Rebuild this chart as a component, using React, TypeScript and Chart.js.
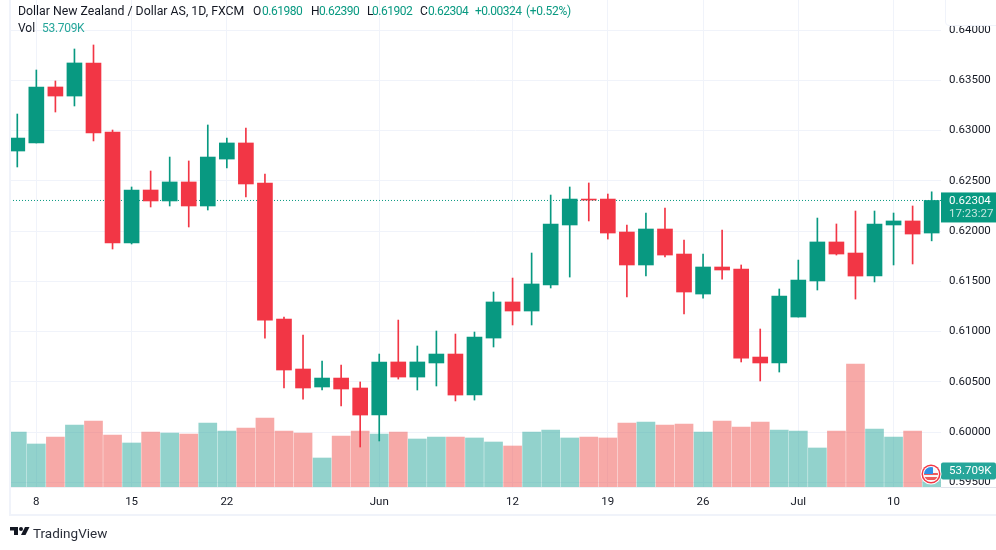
import { useEffect, useRef } from "react";
import { Chart, registerables } from "chart.js";

Chart.register(...registerables);

const opens = [
  0.62796, 0.62876, 0.63433, 0.63343, 0.63672, 0.62985, 0.61881, 0.62408, 0.62299, 0.62488,
  0.62249, 0.62716, 0.62876, 0.62478, 0.61124, 0.60627, 0.60448, 0.60537, 0.60438, 0.60169,
  0.60697, 0.60547, 0.60687, 0.60776, 0.60368, 0.60935, 0.61294, 0.61204, 0.61463, 0.6206,
  0.62318, 0.62318, 0.6199, 0.61662, 0.6202, 0.61771, 0.61373, 0.61642, 0.61622, 0.60746,
  0.60687, 0.61144, 0.61503, 0.61891, 0.61781, 0.61552, 0.6206, 0.621, 0.6198,
];
const highs = [
  0.63164, 0.63602, 0.63493, 0.63811, 0.63851, 0.63005, 0.62438, 0.62597, 0.62736, 0.62697,
  0.63055, 0.62925, 0.63025, 0.62567, 0.61144, 0.60965, 0.60707, 0.60667, 0.60498, 0.60776,
  0.61114, 0.60856, 0.61005, 0.60975, 0.60995, 0.61393, 0.61532, 0.61781, 0.62358, 0.62438,
  0.62478, 0.62368, 0.6206, 0.62179, 0.62229, 0.6191, 0.61771, 0.6201, 0.61662, 0.61025,
  0.61423, 0.61711, 0.62129, 0.6207, 0.62199, 0.62199, 0.62179, 0.62249, 0.6239,
];
const lows = [
  0.62637, 0.62876, 0.63184, 0.63244, 0.62896, 0.61821, 0.61871, 0.62239, 0.62249, 0.6204,
  0.62209, 0.62627, 0.62338, 0.60935, 0.60438, 0.60328, 0.60418, 0.60259, 0.59851, 0.59911,
  0.60527, 0.60418, 0.60458, 0.60309, 0.60318, 0.60846, 0.61065, 0.61065, 0.61433, 0.61542,
  0.621, 0.6192, 0.61343, 0.61552, 0.61741, 0.61174, 0.61333, 0.61522, 0.60697, 0.60508,
  0.60597, 0.61144, 0.61413, 0.61761, 0.61323, 0.61493, 0.61662, 0.61672, 0.61902,
];
const closes = [
  0.62925, 0.63433, 0.63343, 0.63672, 0.62975, 0.61881, 0.62408, 0.62299, 0.62488, 0.62249,
  0.62736, 0.62876, 0.62468, 0.61114, 0.60617, 0.60438, 0.60537, 0.60428, 0.60169, 0.60697,
  0.60547, 0.60697, 0.60776, 0.60368, 0.60945, 0.61294, 0.61204, 0.61473, 0.6207, 0.62318,
  0.62308, 0.6198, 0.61662, 0.6202, 0.61761, 0.61393, 0.61642, 0.61612, 0.60736, 0.60687,
  0.61353, 0.61512, 0.61891, 0.61771, 0.61552, 0.6207, 0.621, 0.6197, 0.62304,
];
// volume in thousands, bar colour comes from volumeUp
const volumes = [
  184.6, 144.3, 167.8, 208.1, 221.5, 174.5, 147.7, 184.6, 181.2, 177.9,
  214.8, 187.9, 198.0, 231.6, 187.9, 181.2, 97.3, 171.2, 187.9, 177.9,
  184.6, 161.1, 167.8, 167.8, 164.5, 151.0, 137.6, 184.6, 191.3, 164.5,
  167.8, 164.5, 214.8, 218.1, 208.1, 211.4, 184.6, 221.5, 201.4, 218.1,
  191.3, 187.9, 130.9, 187.9, 412.8, 194.7, 167.8, 187.9, 53.709,
];
const volumeUp = [
  1, 1, 0, 1, 0, 0, 1, 0, 1, 0, 1, 1, 0, 0, 0, 0, 1, 0, 0, 1, 0, 1, 1, 0, 1,
  1, 0, 1, 1, 1, 0, 0, 0, 1, 0, 0, 1, 0, 0, 0, 1, 1, 1, 0, 0, 1, 1, 0, 1,
];
const xTicks = [1, 6, 11, 19, 26, 31, 36, 41, 46];
const xLabels = ["8", "15", "22", "Jun", "12", "19", "26", "Jul", "10"];
const yTicks = [0.595, 0.6, 0.605, 0.61, 0.615, 0.62, 0.625, 0.63, 0.635, 0.64];
const lastPrice = 0.62304;
const lastVolume = 53.709;

const UP = "#089981";
const DOWN = "#F23645";
const GRID = "#f0f3fa";
const FONT = "Roboto, 'Noto Sans', sans-serif";

const xMin = -0.383;
const xMax = 48.49;

const sideLabels = {
  id: "sideLabels",
  afterDraw(chart: any) {
    const { ctx, scales } = chart;
    const right = 996;
    const left = chart.chartArea.right;
    ctx.save();
    // axis bottom edge on the price scale
    ctx.fillStyle = "#e0e3eb";
    ctx.fillRect(left, chart.chartArea.bottom, right - left, 1);

    // last price tag
    const py = scales.y.getPixelForValue(lastPrice);
    ctx.fillStyle = UP;
    ctx.fillRect(left, py - 8, right - left, 30);
    ctx.textBaseline = "middle";
    ctx.textAlign = "left";
    ctx.font = `11.5px ${FONT}`;
    ctx.fillStyle = "#ffffff";
    ctx.fillText(lastPrice.toFixed(5), left + 8, py + 0.5);
    ctx.fillStyle = "#c4e6df";
    ctx.fillText("17:23:27", left + 8, py + 14);

    // volume tag
    const vy = scales.vol.getPixelForValue(lastVolume);
    ctx.fillStyle = "#26a69a";
    ctx.beginPath();
    ctx.roundRect(left, vy - 8.5, right - left, 17, 2);
    ctx.fill();
    ctx.fillStyle = "#ffffff";
    ctx.fillText(lastVolume.toFixed(3) + "K", left + 8, vy + 0.5);

    // round flag on the volume line
    const cx = 931;
    const cy = vy + 3;
    ctx.beginPath();
    ctx.arc(cx, cy, 10.5, 0, Math.PI * 2);
    ctx.fillStyle = "#ffffff";
    ctx.fill();
    ctx.beginPath();
    ctx.arc(cx, cy, 9.5, 0, Math.PI * 2);
    ctx.fillStyle = "#f23645";
    ctx.fill();
    ctx.beginPath();
    ctx.arc(cx, cy, 8, 0, Math.PI * 2);
    ctx.fillStyle = "#ffffff";
    ctx.fill();
    ctx.save();
    ctx.beginPath();
    ctx.arc(cx, cy, 7, 0, Math.PI * 2);
    ctx.clip();
    ctx.fillStyle = "#f7f7f7";
    ctx.fillRect(cx - 7, cy - 7, 14, 14);
    ctx.fillStyle = "#ef5a5a";
    ctx.fillRect(cx - 7, cy - 1, 14, 2);
    ctx.fillRect(cx - 7, cy + 3, 14, 3);
    ctx.fillStyle = "#2f8fe8";
    ctx.fillRect(cx - 7, cy - 7, 9, 7);
    ctx.restore();
    ctx.restore();
  },
};

const textAt = (left: number, top: number, color: string, text: string, size = 12, spacing = 0) => (
  <span style={{ position: "absolute", left, top, color, fontSize: size, letterSpacing: spacing, lineHeight: "16px", whiteSpace: "nowrap" }}>
    {text}
  </span>
);

export default function App() {
  const canvasRef = useRef<HTMLCanvasElement | null>(null);

  useEffect(() => {
    if (!canvasRef.current) return;

    const idx = opens.map((_, i) => i);
    const candleColors = idx.map((i) => (closes[i] >= opens[i] ? UP : DOWN));

    const chart = new Chart(canvasRef.current, {
      type: "bar",
      data: {
        datasets: [
          {
            data: idx.map((i) => ({ x: i, y: [opens[i], closes[i]] })),
            backgroundColor: candleColors,
            barThickness: 15,
            grouped: false,
            order: 1,
          },
          {
            data: idx.map((i) => ({ x: i, y: [lows[i], highs[i]] })),
            backgroundColor: candleColors,
            barThickness: 1,
            grouped: false,
            order: 2,
          },
          {
            type: "line",
            data: [
              { x: xMin, y: lastPrice },
              { x: xMax, y: lastPrice },
            ],
            borderColor: UP,
            borderWidth: 1,
            borderDash: [1, 2],
            pointRadius: 0,
            order: 3,
          },
          {
            data: idx.map((i) => ({ x: i, y: volumes[i] })),
            yAxisID: "vol",
            backgroundColor: idx.map((i) => (volumeUp[i] ? "rgba(38,166,154,0.5)" : "rgba(239,83,80,0.5)")),
            barThickness: 18,
            grouped: false,
            order: 4,
          },
        ],
      } as any,
      options: {
        responsive: false,
        animation: false,
        layout: { padding: { left: 10, top: 0, right: 0, bottom: 0 } },
        plugins: { legend: { display: false }, tooltip: { enabled: false } },
        scales: {
          x: {
            type: "linear",
            offset: false,
            min: xMin,
            max: xMax,
            afterBuildTicks: (scale: any) => {
              scale.ticks = xTicks.map((value) => ({ value }));
            },
            afterFit: (scale: any) => {
              scale.height = 63;
            },
            grid: { color: GRID, offset: false, drawTicks: false },
            border: { display: true, color: "#eef0f5" },
            ticks: {
              autoSkip: false,
              maxRotation: 0,
              padding: 8,
              color: "#131722",
              font: { family: FONT, size: 11.5 },
              callback: (v: any) => xLabels[xTicks.indexOf(Number(v))],
            },
          },
          y: {
            position: "right",
            min: 0.59453,
            max: 0.642985,
            afterBuildTicks: (scale: any) => {
              scale.ticks = yTicks.map((value) => ({ value }));
            },
            afterFit: (scale: any) => {
              scale.width = 55;
              scale.paddingTop = 0;
              scale.paddingBottom = 0;
            },
            grid: { color: GRID, drawTicks: false },
            border: { display: false },
            ticks: {
              autoSkip: false,
              padding: 8,
              color: "#131722",
              font: { family: FONT, size: 11.5 },
              callback: (v: any) => Number(v).toFixed(5),
            },
          },
          vol: {
            display: false,
            position: "left",
            min: 0,
            max: 1634.4,
          },
        },
      } as any,
      plugins: [sideLabels],
    });

    return () => chart.destroy();
  }, []);

  return (
    <div style={{ position: "fixed", left: 0, top: 0, width: 996, height: 550, background: "#fff", fontFamily: FONT, overflow: "hidden" }}>
      <canvas ref={canvasRef} width={996} height={550} style={{ display: "block" }} />

      {/* frame round the chart */}
      <div style={{ position: "absolute", left: 9, top: 0, width: 987, height: 514, borderLeft: `2px solid ${GRID}`, borderBottom: `2px solid ${GRID}` }} />
      <div style={{ position: "absolute", left: 945, top: -4, width: 60, height: 28, border: `1px solid ${GRID}`, borderRadius: 4, background: "#fff" }} />

      {/* header */}
      {textAt(18, 3, "#131722", "Dollar New Zealand / Dollar AS, 1D, FXCM", 12.3)}
      {textAt(253, 3, "#131722", "O")}
      {textAt(262, 3, UP, "0.61980", 12, -0.5)}
      {textAt(311, 3, "#131722", "H")}
      {textAt(319, 3, UP, "0.62390", 12, -0.5)}
      {textAt(367, 3, "#131722", "L")}
      {textAt(372, 3, UP, "0.61902", 12, -0.5)}
      {textAt(420, 3, "#131722", "C")}
      {textAt(428, 3, UP, "0.62304", 12, -0.5)}
      {textAt(475, 3, UP, "+0.00324", 12, -0.5)}
      {textAt(526, 3, UP, "(+0.52%)", 12, -0.3)}
      {textAt(18, 20, "#131722", "Vol")}
      {textAt(42, 20, "#26a69a", "53.709K", 12, -0.3)}

      {/* logo */}
      <svg style={{ position: "absolute", left: 10, top: 526 }} width={20} height={10} viewBox="0 0 20 10">
        <path d="M0 1h8v8H4V4.5H0z" fill="#131722" />
        <circle cx="11" cy="3" r="2" fill="#131722" />
        <path d="M15 1h4.5l-4 8H11z" fill="#131722" />
      </svg>
      {textAt(33, 525, "#2a2e39", "TradingView", 13.5)}
    </div>
  );
}
